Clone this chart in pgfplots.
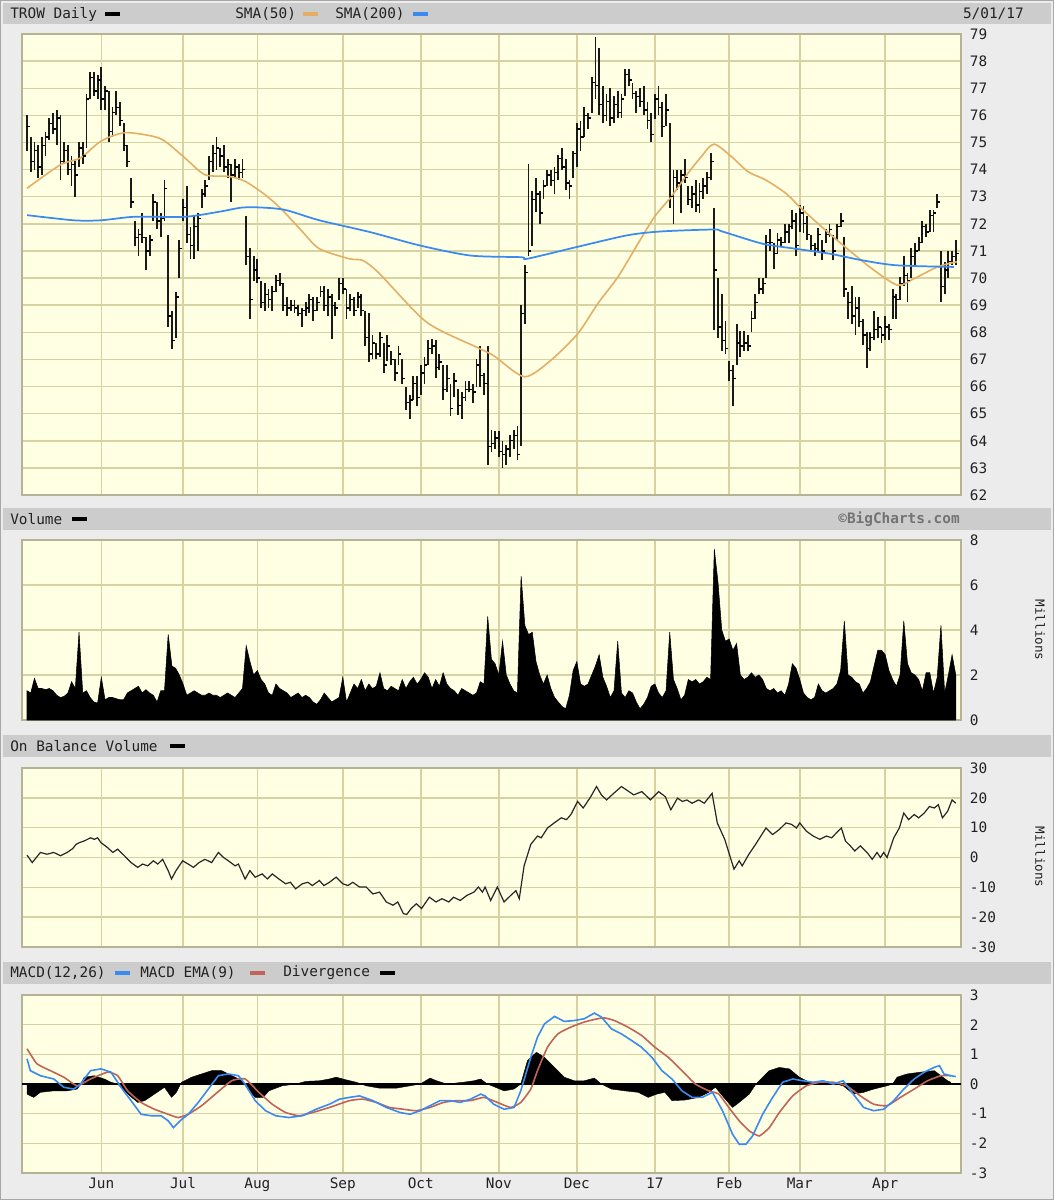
\documentclass[border=0pt]{standalone}
\usepackage{fontspec}
\setmainfont{DejaVu Sans}
\newfontfamily\monof{DejaVu Sans Mono}
\usepackage{pgfplots}
\usepackage{pgfplotstable}
\pgfplotsset{compat=1.18}

\definecolor{canvas}{HTML}{ECECEC}
\definecolor{hdr}{HTML}{CCCCCC}
\definecolor{edge}{HTML}{A8A8A8}
\definecolor{plotbg}{HTML}{FFFFE4}
\definecolor{gridc}{HTML}{D6D2A2}
\definecolor{frame}{HTML}{B4B494}
\definecolor{smaor}{HTML}{E4AE64}
\definecolor{smabl}{HTML}{3A8AF0}
\definecolor{emared}{HTML}{C0645A}
\definecolor{txt}{HTML}{222222}

\pgfdeclareplotmark{rtick}{%
  \pgfpathmoveto{\pgfpoint{0pt}{0pt}}%
  \pgfpathlineto{\pgfpoint{\pgfplotmarksize}{0pt}}%
  \pgfusepathqstroke}

\newcommand\hfont{\monof\fontsize{10.8}{11}\selectfont}

% trading day index, high, low, close
\pgfplotstableread{
i h l c
0 76.0 74.7 75.6
1 75.2 73.9 74.3
2 75.0 74.0 74.7
3 74.9 73.7 74.1
4 75.2 73.8 74.9
5 75.4 74.5 75.2
6 75.9 75.1 75.7
7 76.1 75.3 75.5
8 76.2 74.9 75.9
9 76.0 73.6 74.3
10 75.0 74.2 74.7
11 74.9 73.8 74.0
12 74.5 73.4 74.2
13 74.3 73.0 73.8
14 75.0 74.1 74.8
15 75.0 74.2 74.5
16 76.8 74.8 76.6
17 77.6 76.6 77.4
18 77.6 76.7 76.9
19 77.5 76.6 77.3
20 77.8 76.2 76.6
21 77.1 76.2 76.9
22 76.9 75.0 75.4
23 76.3 75.2 76.1
24 76.9 76.0 76.3
25 76.5 75.6 75.8
26 75.7 74.7 74.9
27 74.9 74.1 74.3
28 73.7 72.6 72.8
29 72.1 71.2 71.5
30 71.8 70.8 71.6
31 72.4 71.3 71.5
32 71.5 70.3 71.0
33 71.6 70.8 71.4
34 73.1 72.1 72.8
35 72.8 71.8 72.1
36 72.4 71.5 72.2
37 73.6 72.1 73.3
38 71.6 68.2 68.6
39 68.8 67.4 67.7
40 69.5 67.8 69.3
41 71.4 70.0 71.1
42 72.9 72.1 72.6
43 73.4 71.3 71.6
44 71.9 70.7 71.2
45 72.3 70.7 71.9
46 72.4 71.0 72.2
47 73.3 72.6 73.1
48 73.6 73.0 73.4
49 74.5 73.6 74.3
50 74.9 73.9 74.6
51 75.2 74.0 74.8
52 74.8 74.1 74.5
53 74.9 73.9 74.1
54 74.4 73.7 74.2
55 74.2 72.8 73.8
56 74.4 73.7 74.1
57 74.2 73.6 73.9
58 74.4 73.7 74.0
59 72.3 70.5 70.8
60 71.1 68.5 69.2
61 70.8 69.9 70.3
62 70.7 69.8 70.0
63 69.9 68.9 69.1
64 69.8 68.8 69.4
65 69.6 68.9 69.2
66 69.7 68.8 69.5
67 70.1 69.5 69.9
68 70.2 69.7 69.8
69 69.8 68.8 69.0
70 69.3 68.6 68.9
71 69.2 68.8 69.0
72 69.2 68.7 68.9
73 69.0 68.6 68.7
74 68.9 68.2 68.8
75 69.1 68.6 68.9
76 69.4 68.7 69.2
77 69.3 68.4 68.8
78 69.3 68.8 69.1
79 69.7 69.3 69.5
80 69.7 68.8 69.0
81 69.6 68.6 69.3
82 69.4 67.75 69.0
83 69.1 68.6 68.9
84 70.0 69.2 69.8
85 70.0 69.4 69.6
86 69.6 68.5 68.9
87 69.4 68.8 69.2
88 69.3 68.6 68.8
89 69.5 68.9 69.3
90 69.4 68.6 68.8
91 68.8 67.5 67.8
92 68.7 66.9 67.2
93 67.9 67.0 67.6
94 67.6 67.0 67.2
95 68.0 67.1 67.8
96 67.6 66.5 66.8
97 67.9 66.95 67.5
98 67.3 66.8 67.0
99 67.0 66.2 66.5
100 67.5 66.8 67.2
101 67.0 66.1 66.3
102 66.0 65.15 65.4
103 65.7 64.8 65.5
104 66.4 65.5 66.1
105 66.4 65.3 65.6
106 66.8 65.7 66.5
107 67.1 66.1 66.8
108 67.7 66.8 67.4
109 67.75 67.2 67.5
110 67.7 66.3 66.7
111 67.2 66.6 66.9
112 66.8 65.5 65.9
113 66.8 65.8 66.3
114 66.1 64.9 65.2
115 66.5 65.6 66.2
116 65.9 64.95 65.3
117 65.8 64.8 65.6
118 66.2 65.45 65.9
119 66.2 65.8 65.9
120 66.1 65.4 65.8
121 67.0 66.0 66.8
122 67.5 66.0 66.4
123 66.5 65.7 66.1
124 67.5 63.1 63.8
125 64.4 63.6 63.9
126 64.35 63.7 64.1
127 64.35 63.4 63.6
128 64.0 63.0 63.5
129 63.85 63.1 63.7
130 64.2 63.4 64.0
131 64.4 63.7 64.2
132 64.55 63.3 63.5
133 69.0 63.8 68.7
134 70.5 68.3 70.2
135 74.2 70.8 71.0
136 73.2 71.2 72.9
137 73.7 72.45 73.1
138 73.2 72.0 72.4
139 73.6 72.9 73.4
140 74.0 73.4 73.8
141 74.0 73.4 73.6
142 74.1 73.1 73.9
143 74.55 73.6 74.4
144 74.8 74.0 74.1
145 74.4 73.25 73.5
146 73.6 72.9 73.4
147 74.7 73.7 74.6
148 75.7 74.1 75.5
149 75.8 74.7 75.2
150 76.3 75.2 76.0
151 76.1 75.5 75.9
152 77.4 76.1 77.2
153 78.9 76.6 77.1
154 78.5 76.0 76.4
155 77.1 75.7 76.0
156 76.8 75.8 76.5
157 77.0 75.6 75.9
158 76.7 75.7 76.4
159 76.9 75.9 76.1
160 76.8 75.9 76.6
161 77.7 76.7 77.5
162 77.7 77.1 77.3
163 77.2 76.6 76.8
164 76.9 76.1 76.7
165 77.0 76.3 76.5
166 77.1 76.0 76.2
167 76.5 75.5 75.8
168 76.1 75.0 75.3
169 76.8 75.85 76.6
170 77.1 76.0 76.3
171 76.5 75.2 75.6
172 76.8 75.6 76.2
173 75.7 72.6 73.0
174 74.0 72.0 73.7
175 74.0 73.25 73.5
176 74.0 72.4 73.8
177 74.4 73.5 73.7
178 73.4 72.7 72.9
179 73.4 72.6 73.1
180 73.6 72.45 72.7
181 73.5 72.4 73.2
182 73.7 72.9 73.4
183 73.9 73.1 73.7
184 74.6 73.6 74.3
185 72.6 68.1 70.3
186 70.0 67.8 68.2
187 69.4 67.3 67.7
188 68.4 67.2 67.4
189 66.95 66.2 66.6
190 66.8 65.3 66.3
191 68.3 66.8 67.6
192 68.05 67.1 67.5
193 68.05 67.3 67.6
194 67.9 67.3 67.5
195 68.8 68.0 68.5
196 69.4 68.5 69.1
197 70.0 69.4 69.6
198 70.0 69.4 69.8
199 71.6 70.0 71.3
200 71.8 71.0 71.3
201 71.3 70.35 70.9
202 71.65 70.9 71.4
203 71.5 71.15 71.3
204 72.0 71.3 71.7
205 72.0 71.3 71.9
206 72.5 71.8 72.1
207 72.4 70.8 71.2
208 72.7 71.7 72.4
209 72.65 71.65 72.0
210 72.3 71.4 71.6
211 71.6 71.0 71.2
212 71.3 70.8 71.1
213 71.85 70.95 71.6
214 71.4 70.65 71.0
215 71.8 71.3 71.6
216 72.0 71.5 71.8
217 71.6 70.65 71.0
218 72.0 71.4 71.9
219 72.4 71.9 72.1
220 71.5 69.3 69.6
221 69.5 68.5 69.1
222 69.7 68.3 68.6
223 69.3 67.9 68.9
224 69.3 68.2 68.4
225 68.5 67.55 67.9
226 68.0 66.7 67.4
227 68.0 67.3 67.8
228 68.8 67.7 68.1
229 68.55 67.8 68.2
230 68.2 67.6 67.9
231 68.6 67.7 68.2
232 68.3 67.7 68.1
233 69.6 68.5 69.3
234 69.4 68.5 69.2
235 70.05 69.2 69.8
236 70.8 69.7 70.1
237 70.2 69.1 69.9
238 71.1 70.0 70.8
239 71.3 70.5 71.0
240 71.5 71.0 71.3
241 72.1 71.3 71.9
242 72.0 71.5 71.7
243 72.5 71.7 72.3
244 72.5 71.7 72.4
245 73.1 72.6 72.8
246 71.0 69.1 69.7
247 70.6 69.4 70.3
248 71.0 70.0 70.6
249 71.0 70.5 70.8
250 71.4 70.5 70.9
}\pricetab

% volume, millions
\pgfplotstableread{
i v
0 1.3
1 1.2
2 1.85
3 1.4
4 1.4
5 1.35
6 1.4
7 1.3
8 1.1
9 1.0
10 1.05
11 1.2
12 1.7
13 1.4
14 3.9
15 1.2
16 1.3
17 1.0
18 0.8
19 0.75
20 1.9
21 0.9
22 1.0
23 1.0
24 0.95
25 0.9
26 0.9
27 1.2
28 1.3
29 1.4
30 1.5
31 1.2
32 1.35
33 1.2
34 1.1
35 0.8
36 1.3
37 1.3
38 3.8
39 2.4
40 2.3
41 2.0
42 1.6
43 1.1
44 1.2
45 1.3
46 1.2
47 1.1
48 1.1
49 1.2
50 1.1
51 1.1
52 1.0
53 1.1
54 1.2
55 1.1
56 1.0
57 1.2
58 1.4
59 3.3
60 2.6
61 2.0
62 2.2
63 1.8
64 1.6
65 1.2
66 1.1
67 1.6
68 1.4
69 1.3
70 1.2
71 1.0
72 1.1
73 1.2
74 1.0
75 1.1
76 1.0
77 0.8
78 0.7
79 0.9
80 1.2
81 1.0
82 0.8
83 0.9
84 1.0
85 1.9
86 0.8
87 1.2
88 1.6
89 1.4
90 1.8
91 1.3
92 1.6
93 1.4
94 1.5
95 2.1
96 1.4
97 1.3
98 1.5
99 1.4
100 1.3
101 1.8
102 1.4
103 1.7
104 1.9
105 1.6
106 1.8
107 2.1
108 1.9
109 1.4
110 1.8
111 1.5
112 2.1
113 1.6
114 1.4
115 1.3
116 1.1
117 1.4
118 1.3
119 1.2
120 1.1
121 1.2
122 1.7
123 1.6
124 4.6
125 2.7
126 2.5
127 2.0
128 3.5
129 2.0
130 1.6
131 1.3
132 1.2
133 6.4
134 4.2
135 3.8
136 3.9
137 2.6
138 2.0
139 1.6
140 2.0
141 1.4
142 1.0
143 0.8
144 0.6
145 0.5
146 1.1
147 2.2
148 2.6
149 1.6
150 1.5
151 1.6
152 2.0
153 2.4
154 2.9
155 1.9
156 1.5
157 1.0
158 1.3
159 3.5
160 1.2
161 1.0
162 1.3
163 1.2
164 0.8
165 0.5
166 0.7
167 1.0
168 1.5
169 1.6
170 1.2
171 1.0
172 1.3
173 3.9
174 1.8
175 1.4
176 0.9
177 1.1
178 1.8
179 1.7
180 1.8
181 1.6
182 1.7
183 1.9
184 1.8
185 7.6
186 6.1
187 4.0
188 3.5
189 3.6
190 3.1
191 3.4
192 2.0
193 1.8
194 1.9
195 2.1
196 1.9
197 2.0
198 1.8
199 1.4
200 1.3
201 1.4
202 1.2
203 1.3
204 1.1
205 1.6
206 2.5
207 2.3
208 1.8
209 1.2
210 1.0
211 0.9
212 1.0
213 1.6
214 1.3
215 1.2
216 1.3
217 1.4
218 1.6
219 2.2
220 4.4
221 2.0
222 1.9
223 1.7
224 1.6
225 1.2
226 1.4
227 1.7
228 2.4
229 3.1
230 3.1
231 2.9
232 2.2
233 1.8
234 1.5
235 2.0
236 4.4
237 2.5
238 2.1
239 2.0
240 1.8
241 1.3
242 2.1
243 2.1
244 1.2
245 1.9
246 4.2
247 1.2
248 2.0
249 2.9
250 2.0
}\voltab

\pgfplotsset{
  panel/.style={
    scale only axis, width=704.25pt, anchor=south west,
    xmin=-1.35, xmax=251.4,
    axis background/.style={fill=plotbg},
    axis line style={frame, line width=0.8pt},
    grid=major, major grid style={gridc, line width=1.1pt},
    xtick={20,42,62,85,106,127,148,169,189,208,231},
    xticklabels={},
    major tick length=0pt,
    yticklabel pos=right,
    tick label style={font=\hfont, text=txt},
    yticklabel style={anchor=west, inner sep=0pt, xshift=6.5pt},
  }
}

\begin{document}
\begin{tikzpicture}
\useasboundingbox (0,0) rectangle (790.5pt,-900pt);
\fill[canvas] (0,0) rectangle (790.5pt,-900pt);
\draw[edge, line width=1pt] (0.5pt,-0.5pt) rectangle (790pt,-899.5pt);

% header bars
\fill[hdr] (2.25pt,-2.25pt) rectangle (788.25pt,-18pt);
\fill[hdr] (2.25pt,-381pt) rectangle (788.25pt,-397.5pt);
\fill[hdr] (2.25pt,-551.25pt) rectangle (788.25pt,-567.75pt);
\fill[hdr] (2.25pt,-721.5pt) rectangle (788.25pt,-738pt);

\begin{scope}[every node/.style={font=\hfont, text=txt, inner sep=0pt}]
\node[anchor=west] at (7.5pt,-10.5pt) {TROW Daily};
\fill[black] (78.75pt,-9.3pt) rectangle (90pt,-12pt);
\node[anchor=west] at (176.25pt,-10.5pt) {SMA(50)};
\fill[smaor] (227.25pt,-9.3pt) rectangle (238.5pt,-12pt);
\node[anchor=west] at (251.25pt,-10.5pt) {SMA(200)};
\fill[smabl] (309.75pt,-9.3pt) rectangle (321pt,-12pt);
\node[anchor=east] at (768pt,-10.5pt) {5/01/17};

\node[anchor=west] at (7.5pt,-389.25pt) {Volume};
\fill[black] (54pt,-388pt) rectangle (65.25pt,-390.7pt);
\node[anchor=east, text=black!55] at (720pt,-389.25pt) {\bfseries ©BigCharts.com};

\node[anchor=west] at (7.5pt,-559.5pt) {On Balance Volume};
\fill[black] (127.5pt,-558.3pt) rectangle (138.75pt,-561pt);

\node[anchor=west] at (7.5pt,-729.75pt) {MACD(12,26)};
\fill[smabl] (86.25pt,-728.5pt) rectangle (97.5pt,-731.2pt);
\node[anchor=west] at (105pt,-729.75pt) {MACD EMA(9)};
\fill[emared] (187.5pt,-728.5pt) rectangle (198.75pt,-731.2pt);
\node[anchor=west] at (212.25pt,-729.75pt) {Divergence};
\fill[black] (285pt,-728.5pt) rectangle (296.25pt,-731.2pt);

\node[rotate=-90, font=\monof\fontsize{9.5}{10}\selectfont] at (780pt,-472.5pt) {Millions};
\node[rotate=-90, font=\monof\fontsize{9.5}{10}\selectfont] at (780pt,-642.75pt) {Millions};
\end{scope}

% price panel
\begin{axis}[panel, at={(16.5pt,-371.25pt)}, height=345.75pt,
  ymin=62, ymax=79, ytick={62,63,64,65,66,67,68,69,70,71,72,73,74,75,76,77,78,79},
  yticklabels={62,63,64,65,66,67,68,69,70,71,72,73,74,75,76,77,78,79}]
\addplot[only marks, mark=rtick, mark size=2.2pt, black, line width=1pt,
  error bars/.cd, y dir=both, y explicit, error mark=none,
  error bar style={line width=1.35pt, black!90}]
  table[x=i, y=c, y error plus expr=\thisrow{h}-\thisrow{c},
        y error minus expr=\thisrow{c}-\thisrow{l}] {\pricetab};
\addplot[smaor, line width=1.2pt, smooth, tension=0.45] coordinates {
(0,73.31) (9.0,74.18) (14.4,74.43) (19.9,75.05) (26.2,75.36) (33.5,75.24)
(37.1,75.05) (42.5,74.43) (47.9,73.81) (54.3,73.75) (58.8,73.56) (64.2,73.06)
(68.7,72.51) (74.2,71.70) (78.7,71.08) (86.8,70.71) (90.4,70.65) (94.9,70.16)
(107.6,68.37) (121.2,67.44) (125.7,67.13) (133.9,66.36) (141.1,66.98)
(148.3,67.96) (153.7,69.07) (159.1,70.05) (164.5,71.28) (168.9,72.26)
(173.4,73.0) (177.9,73.86) (181.5,74.48) (184.9,74.94) (189.6,74.48)
(194.1,73.92) (198.8,73.62) (204.2,73.13) (208.4,72.57) (213.8,71.9)
(220.1,71.16) (227.3,70.36) (234.3,69.74) (238.9,69.99) (245.2,70.42) (250.3,70.6)};
\addplot[smabl, line width=1.3pt, smooth, tension=0.45] coordinates {
(0,72.32) (12.6,72.13) (19.9,72.13) (28.9,72.26) (42.5,72.26) (51.5,72.44)
(57.9,72.6) (63.3,72.6) (69.6,72.51) (78.7,72.13) (92.2,71.70) (105.8,71.2)
(119.4,70.83) (133.0,70.77) (134.6,70.71) (148.1,71.15) (161.7,71.58)
(170.8,71.72) (184.8,71.79) (187.1,71.72) (197.9,71.27) (206.9,71.08)
(216.0,70.9) (225.0,70.65) (234.1,70.47) (249.5,70.41)};
\end{axis}

% volume panel
\begin{axis}[panel, at={(16.5pt,-540pt)}, height=135pt,
  ymin=0, ymax=8, ytick={0,2,4,6,8}, yticklabels={0,2,4,6,8}]
\addplot[fill=black, draw=black, line width=0.4pt] table[x=i, y=v] {\voltab} \closedcycle;
\end{axis}

% on balance volume panel
\begin{axis}[panel, at={(16.5pt,-710.25pt)}, height=134.25pt,
  ymin=-30, ymax=30, ytick={-30,-20,-10,0,10,20,30},
  yticklabels={-30,-20,-10,0,10,20,30}]
\addplot[black!85, line width=0.9pt] coordinates {
(0,0.8) (1.4,-1.7) (3.6,1.7) (5.4,1.1) (7.2,1.7) (9,0.6) (10.8,1.7) (12.3,3.0)
(13.2,4.4) (14.1,5.0) (15.3,5.5) (17.1,6.6) (18.1,6.1) (19,6.6) (19.9,5.0)
(21.7,3.3) (23.1,1.7) (24.4,2.8) (26.2,0.6) (28,-1.7) (29.8,-3.3) (31.1,-2.2)
(32.5,-2.8) (34,-1.1) (35.2,-2.2) (36.5,-0.6) (38,-4.4) (38.9,-7.2) (40.1,-4.4)
(41.9,-1.1) (43.4,-2.2) (44.8,-3.3) (46.3,-1.7) (47.9,-0.6) (49.7,-1.7)
(51.5,1.7) (52.9,0) (54.2,-1.1) (56,-2.8) (56.9,-2.2) (58.7,-7.2) (60,-4.4)
(61.4,-6.6) (63.3,-5.5) (64.7,-7.2) (66,-5.5) (67.8,-7.2) (69.6,-8.8)
(70.9,-8.3) (72.3,-10.5) (74.1,-8.8) (75.6,-8.3) (76.8,-9.4) (78.7,-7.7)
(79.9,-9.4) (81.4,-8.3) (83.2,-6.6) (85,-8.8) (86.4,-9.4) (87.7,-8.3)
(89.5,-9.9) (91.3,-9.9) (93.1,-12.2) (94.9,-11.6) (96.7,-14.9) (98.5,-16.0)
(99.8,-14.9) (101.3,-18.8) (102.2,-19.1) (103.4,-17.1) (104.8,-15.5)
(106.2,-17.1) (108.3,-13.3) (110.1,-14.9) (111.7,-13.8) (113.5,-14.9)
(114.8,-13.3) (116.6,-14.4) (118.4,-12.7) (120.3,-11.6) (121.5,-9.9)
(122.6,-11.6) (123.3,-9.9) (124.8,-14.4) (126.6,-9.9) (128.4,-14.9)
(130.2,-12.7) (131.6,-11.1) (132.5,-13.8) (133.8,-2.8) (135.6,4.4) (137.4,7.2)
(138.4,6.6) (140.1,9.9) (141.9,11.6) (143.8,13.3) (145.2,12.7) (146.4,14.4)
(148.2,18.8) (149.7,16.6) (151.5,19.9) (153.3,23.8) (154.6,21.0) (156,19.3)
(157.9,21.5) (160,23.8) (161.3,22.7) (163.3,21.0) (165.5,22.1) (167.8,19.3)
(170,22.1) (171.8,20.4) (173.3,16.0) (175.1,19.9) (176.4,18.8) (177.6,19.3)
(179,18.2) (180.8,19.3) (182.3,18.2) (184.4,21.5) (185.8,11.6) (187.8,6.1)
(190.3,-3.9) (191.7,-1.1) (192.5,-2.8) (194.3,1.1) (196.1,4.4) (198.9,9.9)
(200.7,7.7) (202.5,9.4) (204.3,11.6) (205.8,11.1) (207.1,9.9) (208,11.6)
(209.8,8.8) (211.6,7.2) (213.4,6.1) (215.2,7.2) (216.6,6.6) (217.9,8.3)
(219.2,9.9) (220.3,5.5) (221.6,3.9) (222.8,2.2) (224.3,3.9) (226.1,1.7)
(227.5,-0.6) (228.8,1.7) (229.7,0) (230.6,1.7) (231.5,0) (233.3,6.6)
(234.8,9.9) (236,14.9) (237.3,12.7) (238.8,14.4) (240,13.3) (241.5,14.9)
(242.9,17.1) (244.2,16.6) (245.3,17.7) (246.4,13.3) (247.8,15.5) (249,19.3)
(250,18.2)};
\end{axis}

% MACD panel
\begin{axis}[panel, at={(16.5pt,-879.75pt)}, height=133.5pt,
  ymin=-3, ymax=3, ytick={-3,-2,-1,0,1,2,3},
  yticklabels={-3,-2,-1,0,1,2,3},
  xticklabels={Jun,Jul,Aug,Sep,Oct,Nov,Dec,17,Feb,Mar,Apr},
  xticklabel style={anchor=north, inner sep=0pt, yshift=-3.5pt}]
\addplot[fill=black, draw=black, line width=0.3pt] coordinates {
(0,-0.34) (1.8,-0.45) (3.6,-0.28) (7.2,-0.23) (10.8,-0.23) (13.5,-0.17)
(14.5,0) (15.4,0.23) (18.1,0.28) (20.8,0.17) (22.6,0.06) (24.4,0) (27.1,-0.34)
(29.8,-0.62) (31.7,-0.56) (34.3,-0.34) (37,-0.11) (38.9,-0.45) (40.2,-0.28)
(41.6,0.06) (44.3,0.23) (47,0.34) (49.7,0.45) (52.4,0.45) (54.2,0.34) (56,0.23)
(57.9,0.11) (59.7,-0.23) (61.4,-0.45) (63.6,-0.45) (65.1,-0.23) (68.7,-0.06)
(72.3,0) (75.1,0.09) (78.7,0.11) (81.4,0.17) (83.2,0.23) (85.9,0.14)
(88.6,0.06) (91.3,-0.06) (94.9,-0.14) (99.4,-0.14) (103.1,-0.06) (105.8,0)
(108.5,0.20) (110.2,0.11) (113,0) (117.5,0.06) (120.3,0.11) (122.1,0.17)
(123.9,0) (125.7,-0.09) (128.4,-0.23) (131.1,-0.17) (132.9,0) (134.7,0.79)
(137.1,1.07) (139.3,0.9) (142,0.56) (144.6,0.23) (147.3,0.11) (150,0.11)
(152.7,0.2) (154.6,0) (157.3,-0.17) (160.9,-0.23) (164.5,-0.28) (167.2,-0.45)
(169.5,-0.34) (171.7,-0.28) (173.6,-0.56) (177.1,-0.54) (180.8,-0.45)
(183.5,-0.28) (185.3,-0.11) (187.2,-0.40) (189.9,-0.79) (191.7,-0.62)
(194.4,-0.34) (196.2,0) (197.1,0.11) (199.8,0.45) (202.5,0.56) (205.2,0.51)
(207.9,0.23) (210.6,0.06) (213.4,0) (217,0.02) (219.7,-0.06) (222.4,-0.34)
(225.2,-0.28) (227.9,-0.17) (231.5,-0.06) (233,0) (234.2,0.23) (236.9,0.34)
(240.5,0.40) (244.2,0.45) (246,0.28) (247.8,0.11) (248.6,0.06)} \closedcycle;
\addplot[black, line width=1.6pt] coordinates {(-1.35,0) (251.4,0)};
\addplot[emared, line width=1.2pt, smooth, tension=0.3] coordinates {
(0,1.19) (2.7,0.68) (6.3,0.45) (9.9,0.23) (13.5,-0.06) (17.1,0.17) (21.7,0.40)
(24.4,0.28) (27.1,-0.23) (30.7,-0.62) (34.3,-0.85) (38,-1.02) (40.7,-1.13)
(43.4,-1.02) (47,-0.73) (50.7,-0.34) (55.1,0.11) (58.7,0.17) (62.4,-0.28)
(66,-0.68) (69.6,-0.96) (73.2,-1.07) (76.9,-0.96) (81.4,-0.79) (86.8,-0.56)
(90.4,-0.51) (94,-0.62) (97.6,-0.79) (101.3,-0.85) (104.8,-0.90) (108.5,-0.79)
(112.1,-0.62) (115.7,-0.56) (119.4,-0.56) (123,-0.45) (126.6,-0.62)
(130.2,-0.79) (132.9,-0.62) (135.6,-0.17) (137.4,0.45) (140.1,1.24)
(142.9,1.69) (146.4,1.92) (150,2.09) (153.6,2.2) (155.4,2.23) (158.1,2.14)
(161.7,1.92) (165.4,1.64) (169,1.24) (172.6,0.90) (176.3,0.45) (179.9,0)
(183.5,-0.23) (186.2,-0.34) (188.9,-0.79) (191.7,-1.24) (194.4,-1.58)
(197.1,-1.75) (199.8,-1.47) (202.5,-0.96) (206.1,-0.40) (209.8,-0.06)
(213.4,0.06) (217,0.06) (220.6,-0.06) (224.3,-0.40) (227.9,-0.68)
(231.5,-0.73) (235.1,-0.45) (238.8,-0.17) (242.4,0.11) (246,0.28) (248.6,0.28)};
\addplot[smabl, line width=1.2pt] coordinates {
(0,0.85) (0.9,0.45) (3.6,0.28) (7.2,0.17) (9.9,-0.11) (12.6,-0.17) (14.4,0)
(17.1,0.45) (19.9,0.51) (22.6,0.40) (25.3,-0.11) (28,-0.56) (30.7,-1.02)
(33.5,-1.07) (36.1,-1.07) (38,-1.24) (39.4,-1.47) (41.2,-1.24) (43.4,-1.02)
(46.1,-0.62) (48.8,-0.17) (51.5,0.28) (54.2,0.34) (56.9,0.28) (58.7,0)
(61.4,-0.56) (64.2,-0.9) (66.9,-1.07) (70.5,-1.13) (74.1,-1.07) (77.8,-0.85)
(81.4,-0.68) (84.1,-0.51) (86.8,-0.45) (89.5,-0.40) (93.1,-0.56) (96.7,-0.79)
(100.4,-0.96) (103.1,-1.02) (105.8,-0.90) (108.5,-0.73) (111.2,-0.56)
(113.9,-0.56) (116.6,-0.62) (119.4,-0.51) (122.1,-0.34) (123.3,-0.4)
(125.6,-0.68) (128.4,-0.85) (131.1,-0.79) (132.9,-0.23) (135.6,0.9)
(137.4,1.58) (139.3,2.03) (142,2.28) (144.6,2.11) (147.3,2.14) (150,2.2)
(152.7,2.39) (154.6,2.26) (157.3,1.86) (160,1.69) (162.7,1.47) (165.4,1.24)
(168.2,0.9) (170.9,0.45) (173.6,0.17) (176.3,-0.23) (179,-0.45) (181.8,-0.45)
(184.5,-0.28) (187.2,-0.9) (189.9,-1.69) (191.7,-2.03) (193.5,-2.03)
(195.3,-1.75) (198,-1.02) (200.7,-0.45) (203.4,0.06) (206.1,0.17) (208.8,0.11)
(211.6,0.06) (214.3,0.11) (217,0) (219.7,0.11) (222.4,-0.34) (225.2,-0.79)
(227.9,-0.9) (230.6,-0.85) (233.3,-0.56) (236,-0.17) (238.8,0.17) (241.5,0.40)
(244.2,0.56) (245.6,0.62) (246.8,0.34) (248.6,0.28) (250,0.25)};
\end{axis}
\end{tikzpicture}
\end{document}
